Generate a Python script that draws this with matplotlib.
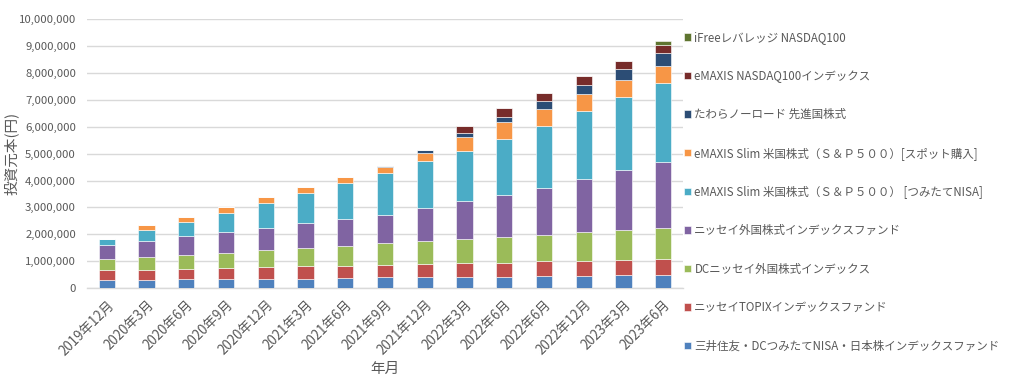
import matplotlib
matplotlib.use("Agg")
import matplotlib.pyplot as plt
from matplotlib.ticker import FuncFormatter
import numpy as np

plt.rcParams['font.family'] = ['Noto Sans CJK JP', 'DejaVu Sans']

months = ["2019年12月", "2020年3月", "2020年6月", "2020年9月", "2020年12月",
          "2021年3月", "2021年6月", "2021年9月", "2021年12月", "2022年3月",
          "2022年6月", "2022年6月", "2022年12月", "2023年3月", "2023年6月"]

# 積み上げ順(下から)
names = [
    "三井住友・DCつみたてNISA・日本株インデックスファンド",
    "ニッセイTOPIXインデックスファンド",
    "DCニッセイ外国株式インデックス",
    "ニッセイ外国株式インデックスファンド",
    "eMAXIS Slim 米国株式（Ｓ＆Ｐ５００） [つみたてNISA]",
    "eMAXIS Slim 米国株式（Ｓ＆Ｐ５００）[スポット購入]",
    "たわらノーロード 先進国株式",
    "eMAXIS NASDAQ100インデックス",
    "iFreeレバレッジ NASDAQ100",
]

mitsui = [300000, 300000, 320000, 320000, 350000, 350000, 380000, 400000, 400000, 420000, 420000, 450000, 450000, 470000, 470000]
topix = [360000, 380000, 390000, 440000, 430000, 460000, 450000, 460000, 490000, 500000, 520000, 540000, 570000, 570000, 600000]
dc_gaikoku = [430000, 490000, 530000, 560000, 650000, 690000, 750000, 800000, 870000, 920000, 970000, 1000000, 1080000, 1130000, 1180000]
gaikoku = [510000, 590000, 700000, 760000, 800000, 910000, 980000, 1070000, 1230000, 1390000, 1550000, 1720000, 1940000, 2210000, 2440000]
sp500_nisa = [220000, 390000, 500000, 720000, 930000, 1130000, 1340000, 1550000, 1720000, 1870000, 2070000, 2320000, 2550000, 2720000, 2930000]
sp500_spot = [0, 190000, 220000, 200000, 240000, 220000, 220000, 240000, 330000, 530000, 650000, 630000, 620000, 640000, 630000]
tawara = [0, 0, 0, 0, 0, 0, 0, 30000, 100000, 150000, 200000, 300000, 330000, 410000, 480000]
nasdaq = [0, 0, 0, 0, 0, 0, 0, 0, 0, 260000, 310000, 290000, 340000, 310000, 310000]
lev_nasdaq = [0, 0, 0, 0, 0, 0, 0, 0, 0, 0, 0, 0, 0, 0, 170000]

series = [mitsui, topix, dc_gaikoku, gaikoku, sp500_nisa, sp500_spot, tawara, nasdaq, lev_nasdaq]
colors = ["#4F81BD", "#C0504D", "#9BBB59", "#8064A2", "#4BACC6",
          "#F79646", "#2C4D75", "#772C2A", "#5F7530"]

text_color = "#595959"
grid_color = "#D9D9D9"

fig = plt.figure(figsize=(10.24, 3.77), dpi=100)
ax = fig.add_axes([87 / 1024, 1 - 288 / 377, (683 - 87) / 1024, (288 - 19.3) / 377])

x = np.arange(len(months))
bottom = np.zeros(len(months))
for vals, name, c in zip(series, names, colors):
    ax.bar(x, vals, width=0.41, bottom=bottom, color=c, label=name,
           edgecolor="white", linewidth=0.4, zorder=3)
    bottom += np.array(vals)

ax.set_xlim(-0.5, len(months) - 0.5)
ax.set_ylim(0, 10000000)
ax.set_yticks(np.arange(0, 10000001, 1000000))
ax.yaxis.set_major_formatter(FuncFormatter(lambda v, p: f"{int(v):,}"))
ax.grid(axis="y", color=grid_color, linewidth=1.0, zorder=0)
for s in ["top", "right", "left"]:
    ax.spines[s].set_visible(False)
ax.spines["bottom"].set_color(grid_color)
ax.spines["bottom"].set_linewidth(1.0)
ax.tick_params(axis="both", length=0, colors=text_color)
ax.tick_params(axis="y", pad=8, labelsize=8.2)
ax.tick_params(axis="x", pad=7, labelsize=9.6)

ax.set_xticks(x)
ax.set_xticklabels(months, rotation=45, ha="right", rotation_mode="anchor")

ax.set_ylabel("投資元本(円)", color=text_color, fontsize=10.5)
ax.yaxis.set_label_coords(-68 / 596, 0.5)
ax.set_xlabel("年月", color=text_color, fontsize=10.5)
ax.xaxis.set_label_coords(0.5, -74 / 269)

handles, labels = ax.get_legend_handles_labels()
leg = fig.legend(handles[::-1], labels[::-1], loc="upper left",
                 bbox_to_anchor=(684 / 1024, 1 - 31 / 377), frameon=False,
                 fontsize=8.3, handlelength=0.6, handleheight=0.6,
                 handletextpad=0.3, labelspacing=2.22, borderaxespad=0,
                 borderpad=0)
for t in leg.get_texts():
    t.set_color(text_color)

fig.savefig("out.png", dpi=100)
